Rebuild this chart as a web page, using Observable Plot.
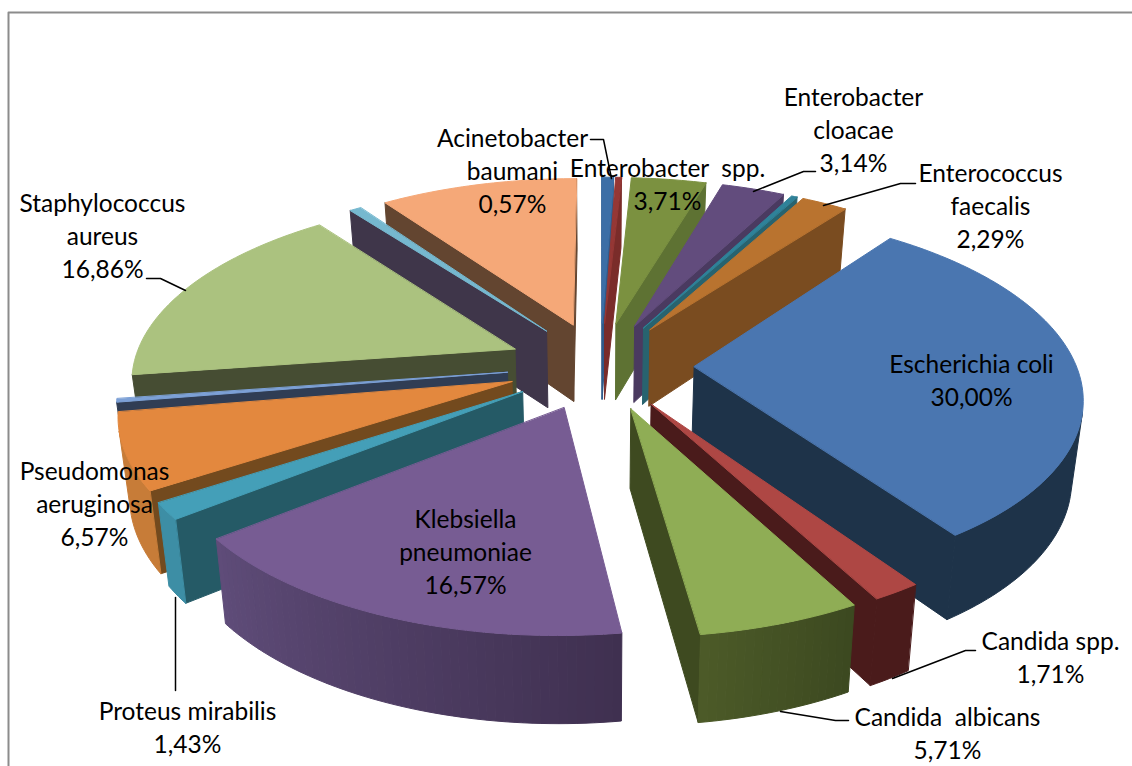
<!DOCTYPE html>
<html><head><meta charset="utf-8">
<style>html,body{margin:0;padding:0;background:#fff}svg{display:block}</style>
<script src="https://cdn.jsdelivr.net/npm/d3@7"></script>
<script src="https://cdn.jsdelivr.net/npm/@observablehq/plot@0.6"></script>
</head><body><script>
// ---- data ----
const names = ["Acinetobacter baumani","(red)","Enterobacter spp.","Enterobacter cloacae","(teal)","Enterococcus faecalis","Escherichia coli","Candida spp.","Candida albicans","Klebsiella pneumoniae","Proteus mirabilis","Pseudomonas aeruginosa","(blue)","Staphylococcus aureus","(light blue)","(peach)"];
const values = [0.57,0.29,3.71,3.14,0.29,2.29,30.00,1.71,5.71,16.57,1.43,6.57,0.29,16.86,0.57,9.80];
const topColors = ["#3c6ea6","#953735","#7b9140","#624c7d","#2f8299","#b9732f","#4a76b0","#ae4744","#8fad55","#775c93","#449fb8","#e3883e","#7ca0d6","#abc27f","#76b8cf","#f5a878"];
const sideColors = ["#2f5a8a","#7a2c2a","#5e7233","#4a3a60","#28636f","#7a4c20","#1e3349","#4a1b1b","#3e4a20","#4a3a60","#255a66","#734a1e","#303d54","#464d33","#3f364a","#634530"];
const arcFrom = ["#3c6ea6","#953735","#7b9140","#624c7d","#2f8299","#b9732f","#1e3349","#4a1b1b","#4c5a28","#5f4c79","#3d8ea5","#c77c38","#303d54","#464d33","#3f364a","#634530"];
const arcTo = ["#3c6ea6","#953735","#7b9140","#624c7d","#2f8299","#b9732f","#1e3349","#4a1b1b","#3c4820","#3f3050","#3d8ea5","#c77c38","#303d54","#464d33","#3f364a","#634530"];
const labelTexts = ["Acinetobacter\nbaumani\n0,57%","Enterobacter  spp.\n3,71%","Enterobacter\ncloacae\n3,14%","Enterococcus\nfaecalis\n2,29%","Escherichia coli\n30,00%","Candida spp.\n1,71%","Candida  albicans\n5,71%","Klebsiella\npneumoniae\n16,57%","Proteus mirabilis\n1,43%","Pseudomonas\naeruginosa\n6,57%","Staphylococcus\naureus\n16,86%"];

// ---- pie geometry (ground plane -> picture) ----
const cx=600, cy=365, R=382, tilt=.47, persp=.15, explode=.245, depth=78, shrink=.024;
const total=d3.sum(values);
const proj=(X,Y,z=0)=>{const s=1/(1+persp*Y);return {x:cx+R*X*s*(1-shrink*z),y:cy-R*tilt*Y*s+depth*z*Math.pow(s,.6)};};
let acc=0;
const slices=values.map((v,i)=>{
  const a0=acc/total*2*Math.PI; acc+=v; const a1=acc/total*2*Math.PI;
  const m=(a0+a1)/2, ox=explode*Math.sin(m), oy=explode*Math.cos(m);
  return {i,a0,a1,ox,oy,at:(a,z=0)=>proj(ox+Math.sin(a),oy+Math.cos(a),z),c:(z=0)=>proj(ox,oy,z)};
});
const area=p=>d3.polygonArea(p.map(q=>[q.x,q.y]));
let faces=[],id=0;
const add=(pts,fill)=>{id++;pts.forEach(p=>faces.push({x:p.x,y:p.y,id,fill}));};
const order=[...slices].sort((A,B)=>B.c().y<A.c().y?1:-1);
for(const s of order){
  const i=s.i;
  // radial faces
  const f0=[s.c(),s.c(1),s.at(s.a0,1),s.at(s.a0)];
  const f1=[s.at(s.a1),s.at(s.a1,1),s.c(1),s.c()];
  for(const f of [f0,f1]) if(area(f)<0) add(f,sideColors[i]);
  // outer wall: uniform colours as one shape, gradients as thin strips
  const n=Math.max(2,Math.ceil((s.a1-s.a0)/0.02));
  const mix=d3.interpolateRgb(arcFrom[i],arcTo[i]);
  const uniform=arcFrom[i]===arcTo[i];
  let run=[];
  const flush=()=>{ if(run.length){ const t=run.map(a=>s.at(a)), b=run.map(a=>s.at(a,1)).reverse(); add([...t,...b],arcFrom[i]); run=[]; } };
  for(let j=0;j<n;j++){
    const a=s.a0+(s.a1-s.a0)*j/n,b=s.a0+(s.a1-s.a0)*(j+1)/n;
    const w=[s.at(a),s.at(a,1),s.at(b,1),s.at(b)];
    if(area(w)<0){
      if(uniform){ if(!run.length) run.push(a); run.push(b); }
      else add(w,mix(1-(j+.5)/n));
    } else flush();
  }
  flush();
  // top
  const top=[s.c()];
  for(let j=0;j<=n;j++) top.push(s.at(s.a0+(s.a1-s.a0)*j/n));
  add(top,topColors[i]);
}
// ---- labels ----
const labelX=[512,667,853,990,971,1050,947,465,187,94,102];
const labelY=[169,182,128,204,378,655,731,550,725,502,234];
const labels=labelTexts.map((t,i)=>({t,x:labelX[i],y:labelY[i]}));
const leaders=[
 [[590,139],[603,139],[611,178]],
 [[815,171],[803,171],[753,191]],
 [[915,183],[900,183],[823,205]],
 [[146,278],[160,278],[185,290]],
 [[975,650],[965,650],[892,678]],
 [[848,720],[835,720],[780,711]],
 [[175,690],[175,597]]
].flatMap((l,k)=>l.map(p=>({x:p[0],y:p[1],k})));
const border=[{x:8,y:766},{x:8,y:12},{x:1132,y:12}];

const chart=Plot.plot({
  width:1132,height:766,margin:0,
  x:{domain:[0,1132],range:[0,1132],axis:null},
  y:{domain:[0,766],range:[0,766],axis:null},
  marks:[
    Plot.line(border,{x:"x",y:"y",stroke:"#8c8c8c",strokeWidth:2}),
    Plot.line(faces,{x:"x",y:"y",z:"id",fill:"fill",stroke:"fill",strokeWidth:1,curve:"linear-closed"}),
    Plot.line(leaders,{x:"x",y:"y",z:"k",stroke:"#000",strokeWidth:1.5}),
    Plot.text(labels,{x:"x",y:"y",text:"t",fontSize:24.5,lineHeight:1.35,fontFamily:"Lato",fill:"#000",textAnchor:"middle",lineAnchor:"middle"})
  ]
});
document.body.appendChild(chart);
</script></body></html>
